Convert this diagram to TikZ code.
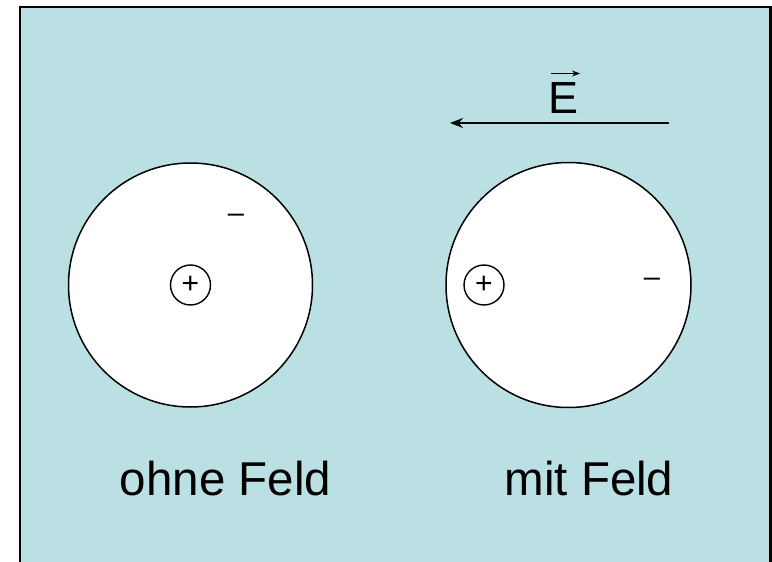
\documentclass[tikz,border=0pt]{standalone}
\usepackage{fontspec}
\setmainfont{Liberation Sans}
\usetikzlibrary{arrows.meta}
\definecolor{bgblue}{RGB}{187,224,227}
\tikzset{
  atom/.style={circle, draw=black, fill=white, line width=1.5pt, inner sep=0pt},
  nucleus/.style={circle, draw=black, line width=1.4pt, minimum size=40pt, inner sep=0pt, font=\fontsize{30}{32}\selectfont},
  charge/.style={anchor=base, inner sep=0pt, font=\fontsize{29}{31}\selectfont},
  caption/.style={anchor=base, inner sep=0pt, font=\fontsize{47.5}{52}\selectfont},
  field/.style={line width=2pt, -{Stealth[length=13pt,width=10pt]}},
}
\begin{document}
\begin{tikzpicture}[x=1pt,y=-1pt]
\useasboundingbox (0,0) rectangle (772,562);
\draw[line width=2.5pt, fill=bgblue] (20,7) rectangle (770.5,575);
% atoms
\node[atom, minimum size=244pt] (a1) at (190.5,285) {};
\node[atom, minimum size=245pt] (a2) at (568.5,285) {};
% nuclei
\node[nucleus] (p1) at (190.5,285) {\raisebox{0.6pt}{+}};
\node[nucleus] (p2) at (484,285) {\raisebox{0.6pt}{+}};
% electrons
\node[charge] (e1) at (236,222.8) {–};
\node[charge] (e2) at (652,286.8) {–};
% field arrow
\coordinate (fs) at (669,123);
\coordinate (fe) at (450,123);
\draw[field] (fs) -- (fe);
\node[anchor=base, inner sep=0pt, font=\fontsize{45}{50}\selectfont] (E) at (564,113) {E};
\coordinate (vs) at (551,73.5);
\coordinate (ve) at (580,73.5);
\draw[line width=1pt, -{Stealth[length=8pt,width=6pt]}] (vs) -- (ve);
% captions
\node[caption] (c1) at (225.5,495) {ohne Feld};
\node[caption] (c2) at (589,495) {mit Feld};
\end{tikzpicture}
\end{document}
